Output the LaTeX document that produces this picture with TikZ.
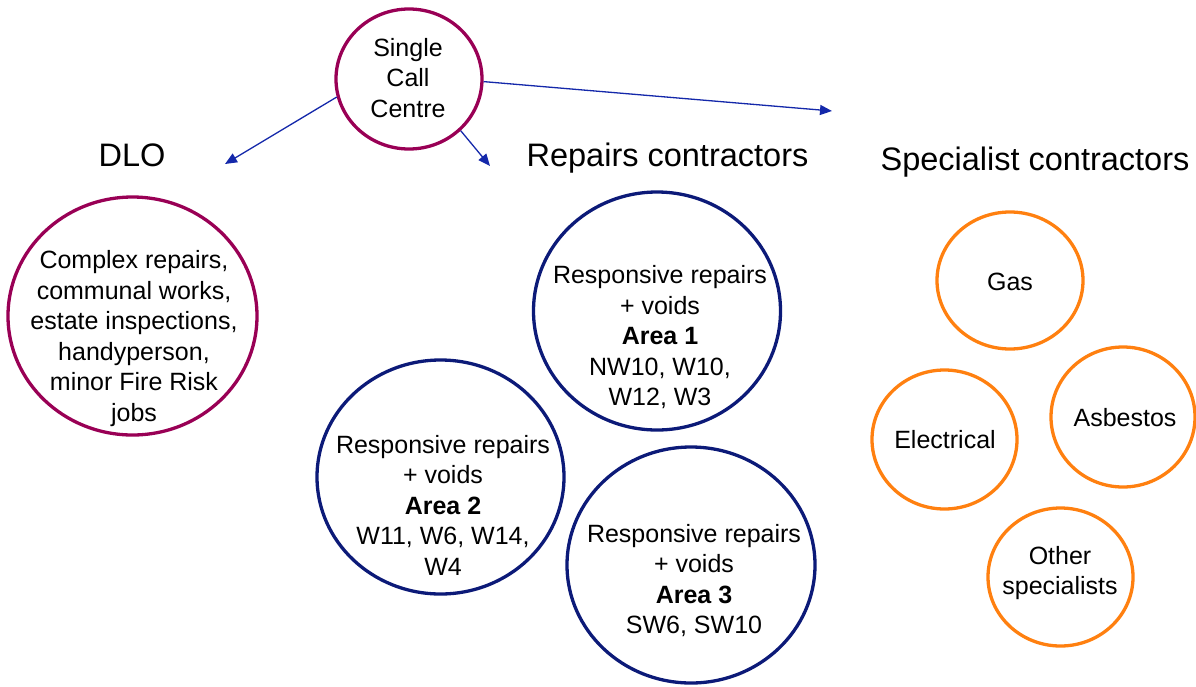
\documentclass[tikz,border=0pt]{standalone}
\usepackage{fontspec}
\setmainfont{Liberation Sans}
\usetikzlibrary{shapes.geometric,arrows.meta}

\definecolor{maroon}{RGB}{153,0,85}
\definecolor{navy}{RGB}{12,26,120}
\definecolor{orangeline}{RGB}{255,128,16}
\definecolor{arrowblue}{RGB}{20,40,170}

\tikzset{
  ring/.style={ellipse, draw, line width=3.3pt, inner sep=0pt},
  dloring/.style={ring, draw=maroon},
  arearing/.style={ring, draw=navy},
  specring/.style={ring, draw=orangeline},
  body/.style={align=center, inner sep=0pt, font=\fontsize{25}{30.5}\selectfont},
  heading/.style={anchor=base, inner sep=0pt, font=\fontsize{32.5}{38}\selectfont},
  link/.style={draw=arrowblue, line width=1.3pt, -{Triangle[length=12pt,width=10pt]}}
}

\begin{document}
\begin{tikzpicture}[x=1pt,y=-1pt]
\useasboundingbox (0,0) rectangle (1196,686);

% central dispatch point
\node[dloring, minimum width=146pt, minimum height=140pt] (scc) at (409,79) {};
\node[body] (scctext) at (408,78) {Single\\Call\\Centre};

% section headings
\node[heading] (dlohead) at (132,166) {DLO};
\node[heading] (repairshead) at (667.5,166) {Repairs contractors};
\node[heading] (spechead) at (1035,170) {Specialist contractors};

% arrow tips
\coordinate (tipdlo) at (225,164);
\coordinate (tiprep) at (490,166);
\coordinate (tipspec) at (832,111);

\draw[link] (scc.194) -- (tipdlo);
\draw[link] (scc.315.6) -- (tiprep);
\draw[link] (scc.358.5) -- (tipspec);

% in-house team
\node[dloring, minimum width=249pt, minimum height=238pt] (dlo) at (132.5,316) {};
\node[body] (dlotext) at (134,338.5) {Complex repairs,\\communal works,\\estate inspections,\\handyperson,\\minor Fire Risk\\jobs};

% repairs contractor areas
\node[arearing, minimum width=247pt, minimum height=238pt] (area1) at (657,311) {};
\node[body] (area1text) at (660,337.5) {Responsive repairs\\+ voids\\\textbf{Area 1}\\NW10, W10,\\W12, W3};

\node[arearing, minimum width=247pt, minimum height=234pt] (area2) at (440.5,477) {};
\node[body] (area2text) at (443,505) {Responsive repairs\\+ voids\\\textbf{Area 2}\\W11, W6, W14,\\W4};

\node[arearing, minimum width=248pt, minimum height=236pt] (area3) at (691,565) {};
\node[body] (area3text) at (694,580.5) {Responsive repairs\\+ voids\\\textbf{Area 3}\\SW6, SW10};

% specialist contractors
\node[specring, minimum width=146pt, minimum height=137pt] (gas) at (1010,280.5) {};
\node[body] (gastext) at (1010,282) {Gas};

\node[specring, minimum width=145pt, minimum height=139pt] (elec) at (944.5,439.5) {};
\node[body] (electext) at (945,440) {Electrical};

\node[specring, minimum width=144pt, minimum height=140pt] (asb) at (1123,417) {};
\node[body] (asbtext) at (1125,418) {Asbestos};

\node[specring, minimum width=145pt, minimum height=138pt] (other) at (1060.5,577) {};
\node[body] (othertext) at (1060,573) {Other\\specialists};
\end{tikzpicture}
\end{document}
